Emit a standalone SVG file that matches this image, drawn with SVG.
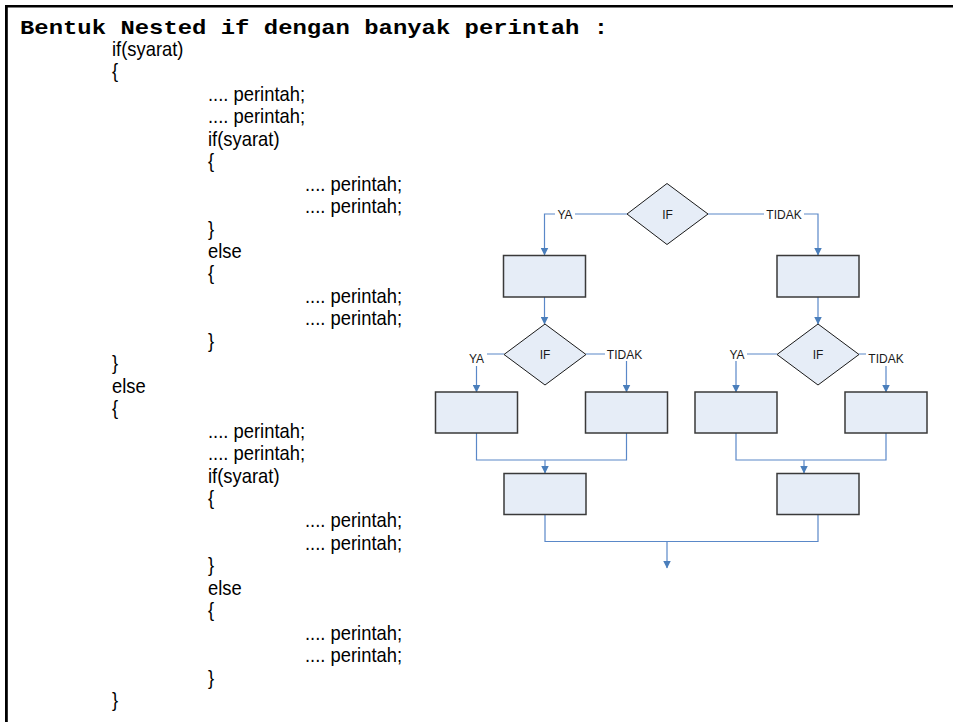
<svg xmlns="http://www.w3.org/2000/svg" width="953" height="722" viewBox="0 0 953 722">
  <style>
    .title { font-family: "Liberation Mono", "Courier New", monospace; font-weight: bold; font-size: 21px; fill: #000; }
    .code { font-family: "Liberation Sans", Arial, sans-serif; font-size: 20px; fill: #000; }
    .box { fill: #e6edf7; stroke: #3a3a3a; stroke-width: 1.5; }
    .dec { fill: #e6edf7; stroke: #1a1a1a; stroke-width: 1; }
    .lbl { font-family: "Liberation Sans", Arial, sans-serif; font-size: 12px; fill: #1a1a1a; text-anchor: middle; }
    .wire { fill: none; stroke: #5a88c8; stroke-width: 1.2; }
    .arrow { marker-end: url(#tip); }
    .bg { fill: #fff; }
  </style>
  <defs>
    <marker id="tip" viewBox="0 0 8 8" refX="7.5" refY="4" markerWidth="8" markerHeight="8" markerUnits="userSpaceOnUse" orient="auto">
      <path d="M0,0 L8,4 L0,8 z" fill="#4a7ebb"/>
    </marker>
  </defs>

  <rect width="953" height="722" fill="#fff"/>

  <!-- frame -->
  <g id="frame" fill="#000">
    <rect x="5" y="5" width="948" height="2.5"/>
    <rect x="5" y="5" width="2.8" height="717"/>
  </g>

  <!-- heading -->
  <text class="title" x="20" y="33.5" textLength="588" lengthAdjust="spacingAndGlyphs">Bentuk Nested if dengan banyak perintah :</text>

  <!-- code listing, slightly condensed horizontally -->
  <g id="code" transform="scale(0.92,1)" class="code">
    <text x="121.7" y="56">if(syarat)</text>
    <text x="121.7" y="78.5">{</text>
    <text x="226.1" y="100.9">.... perintah;</text>
    <text x="226.1" y="123.4">.... perintah;</text>
    <text x="226.1" y="145.8">if(syarat)</text>
    <text x="226.1" y="168.3">{</text>
    <text x="331.5" y="190.7">.... perintah;</text>
    <text x="331.5" y="213.2">.... perintah;</text>
    <text x="226.1" y="235.6">}</text>
    <text x="226.1" y="258.1">else</text>
    <text x="226.1" y="280.5">{</text>
    <text x="331.5" y="303">.... perintah;</text>
    <text x="331.5" y="325.4">.... perintah;</text>
    <text x="226.1" y="347.9">}</text>
    <text x="121.7" y="370.3">}</text>
    <text x="121.7" y="392.8">else</text>
    <text x="121.7" y="415.2">{</text>
    <text x="226.1" y="437.7">.... perintah;</text>
    <text x="226.1" y="460.1">.... perintah;</text>
    <text x="226.1" y="482.6">if(syarat)</text>
    <text x="226.1" y="505">{</text>
    <text x="331.5" y="527.5">.... perintah;</text>
    <text x="331.5" y="549.9">.... perintah;</text>
    <text x="226.1" y="572.4">}</text>
    <text x="226.1" y="594.8">else</text>
    <text x="226.1" y="617.3">{</text>
    <text x="331.5" y="639.7">.... perintah;</text>
    <text x="331.5" y="662.2">.... perintah;</text>
    <text x="226.1" y="684.6">}</text>
    <text x="121.7" y="707.1">}</text>
  </g>

  <!-- connectors -->
  <g id="connectors">
    <path class="wire arrow" d="M627,214 H544.5 V255"/>
    <path class="wire arrow" d="M708,214 H818 V255"/>
    <path class="wire arrow" d="M544.5,297 V324"/>
    <path class="wire arrow" d="M818,297 V324"/>
    <path class="wire arrow" d="M504,354 H476.5 V392"/>
    <path class="wire arrow" d="M586,354 H626.5 V392"/>
    <path class="wire arrow" d="M777,354 H736 V392"/>
    <path class="wire arrow" d="M859,354 H886 V392"/>
    <path class="wire" d="M476.5,433 V460 H626.5 V433"/>
    <path class="wire arrow" d="M545,460 V473"/>
    <path class="wire" d="M736,433 V460 H886 V433"/>
    <path class="wire arrow" d="M804,460 V473"/>
    <path class="wire" d="M545,514 V541.5 H818 V514"/>
    <path class="wire arrow" d="M667,541.5 V568"/>

    <rect class="bg" x="555" y="207" width="20" height="14"/>
    <text class="lbl" x="565" y="218.5">YA</text>
    <rect class="bg" x="764" y="207" width="40" height="14"/>
    <text class="lbl" x="784" y="218.5">TIDAK</text>

    <rect class="bg" x="466" y="351" width="21" height="15"/>
    <text class="lbl" x="476.5" y="362.5">YA</text>
    <rect class="bg" x="605" y="347" width="40" height="14"/>
    <text class="lbl" x="624.5" y="358.5">TIDAK</text>

    <rect class="bg" x="727" y="347" width="20" height="14"/>
    <text class="lbl" x="737" y="358.5">YA</text>
    <rect class="bg" x="866" y="351" width="40" height="15"/>
    <text class="lbl" x="886" y="362.5">TIDAK</text>
  </g>

  <!-- decisions -->
  <g id="if-top">
    <path class="dec" d="M667,183.5 L708,214 L667,244.5 L627,214 z"/>
    <text class="lbl" x="667.5" y="218.5">IF</text>
  </g>
  <g id="if-left">
    <path class="dec" d="M545,324 L586,354.5 L545,385 L504,354.5 z"/>
    <text class="lbl" x="545" y="358.5">IF</text>
  </g>
  <g id="if-right">
    <path class="dec" d="M818,324 L859,354.5 L818,385 L777,354.5 z"/>
    <text class="lbl" x="818" y="358.5">IF</text>
  </g>

  <!-- process boxes -->
  <g id="box-ya"><rect class="box" x="503.5" y="255.5" width="82" height="41.5"/></g>
  <g id="box-tidak"><rect class="box" x="777" y="255.5" width="82" height="41.5"/></g>
  <g id="box-ya-ya"><rect class="box" x="435.5" y="392" width="82" height="41"/></g>
  <g id="box-ya-tidak"><rect class="box" x="585.5" y="392" width="82" height="41"/></g>
  <g id="box-tidak-ya"><rect class="box" x="695" y="392" width="82" height="41"/></g>
  <g id="box-tidak-tidak"><rect class="box" x="845" y="392" width="82" height="41"/></g>
  <g id="box-join-left"><rect class="box" x="504" y="473.5" width="82" height="41"/></g>
  <g id="box-join-right"><rect class="box" x="777" y="473.5" width="82" height="41"/></g>
</svg>
